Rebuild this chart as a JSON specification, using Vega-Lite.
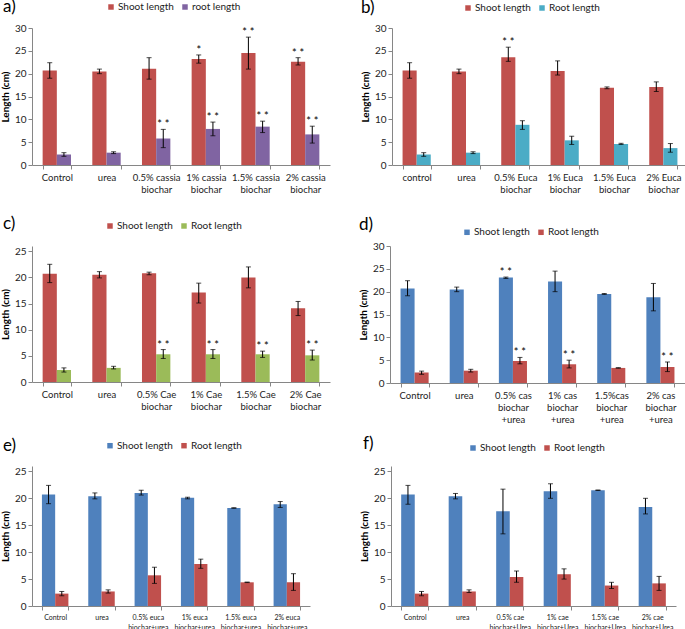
{
  "$schema": "https://vega.github.io/schema/vega-lite/v6.json",
  "padding": {"left": 0, "top": -2, "right": 0, "bottom": 0},
  "config": {
    "view": {"stroke": null},
    "font": "Lato",
    "axis": {"grid": false, "domainColor": "#868686", "tickColor": "#868686", "labelColor": "#222222", "labelFont": "Lato", "titleFont": "Lato"},
    "axisX": {"tickBand": "extent", "labelAngle": 0, "tickSize": 4, "labelPadding": 3, "labelFontSize": 9.5, "labelLineHeight": 12},
    "axisY": {"tickSize": 4, "labelPadding": 2, "labelFontSize": 10, "titleFontSize": 10, "titleFontWeight": "bold", "titleColor": "#000000", "titlePadding": 4},
    "legend": {"orient": "none", "direction": "horizontal", "title": null, "symbolType": "square", "symbolSize": 30, "symbolStrokeWidth": 0, "labelFontSize": 10, "labelFont": "Lato", "labelColor": "#222222", "labelOffset": 2, "columnPadding": 6, "padding": 0},
    "title": {"anchor": "start", "frame": "group", "fontSize": 17, "fontWeight": "normal", "font": "Lato", "color": "#000000"},
    "tick": {"thickness": 1}
  },
  "datasets": {
    "a": [
      {"cat": "Control", "series": "Shoot length", "value": 20.7, "lo": 19.0, "hi": 22.4, "sig": ""},
      {"cat": "Control", "series": "root length", "value": 2.3, "lo": 1.9, "hi": 2.7, "sig": ""},
      {"cat": "urea", "series": "Shoot length", "value": 20.5, "lo": 20.0, "hi": 21.0, "sig": ""},
      {"cat": "urea", "series": "root length", "value": 2.7, "lo": 2.5, "hi": 2.9, "sig": ""},
      {"cat": "0.5% cassia\nbiochar", "series": "Shoot length", "value": 21.1, "lo": 18.8, "hi": 23.5, "sig": ""},
      {"cat": "0.5% cassia\nbiochar", "series": "root length", "value": 5.8, "lo": 3.8, "hi": 7.8, "sig": "* *"},
      {"cat": "1% cassia\nbiochar", "series": "Shoot length", "value": 23.2, "lo": 22.3, "hi": 24.1, "sig": "*"},
      {"cat": "1% cassia\nbiochar", "series": "root length", "value": 7.9, "lo": 6.4, "hi": 9.4, "sig": "* *"},
      {"cat": "1.5% cassia\nbiochar", "series": "Shoot length", "value": 24.5, "lo": 21.0, "hi": 28.0, "sig": "* *"},
      {"cat": "1.5% cassia\nbiochar", "series": "root length", "value": 8.4, "lo": 7.1, "hi": 9.6, "sig": "* *"},
      {"cat": "2% cassia\nbiochar", "series": "Shoot length", "value": 22.6, "lo": 21.9, "hi": 23.5, "sig": "* *"},
      {"cat": "2% cassia\nbiochar", "series": "root length", "value": 6.7, "lo": 4.8, "hi": 8.5, "sig": "* *"}
    ],
    "b": [
      {"cat": "control", "series": "Shoot length", "value": 20.7, "lo": 19.0, "hi": 22.4, "sig": ""},
      {"cat": "control", "series": "Root length", "value": 2.3, "lo": 1.9, "hi": 2.7, "sig": ""},
      {"cat": "urea", "series": "Shoot length", "value": 20.5, "lo": 20.0, "hi": 21.0, "sig": ""},
      {"cat": "urea", "series": "Root length", "value": 2.7, "lo": 2.5, "hi": 2.9, "sig": ""},
      {"cat": "0.5% Euca\nbiochar", "series": "Shoot length", "value": 23.6, "lo": 22.7, "hi": 25.8, "sig": "* *"},
      {"cat": "0.5% Euca\nbiochar", "series": "Root length", "value": 8.8, "lo": 7.8, "hi": 9.7, "sig": ""},
      {"cat": "1% Euca\nbiochar", "series": "Shoot length", "value": 20.6, "lo": 19.7, "hi": 22.8, "sig": ""},
      {"cat": "1% Euca\nbiochar", "series": "Root length", "value": 5.4, "lo": 4.5, "hi": 6.3, "sig": ""},
      {"cat": "1.5% Euca\nbiochar", "series": "Shoot length", "value": 16.9, "lo": 16.7, "hi": 17.1, "sig": ""},
      {"cat": "1.5% Euca\nbiochar", "series": "Root length", "value": 4.6, "lo": 4.5, "hi": 4.75, "sig": ""},
      {"cat": "2% Euca\nbiochar", "series": "Shoot length", "value": 17.1, "lo": 16.1, "hi": 18.2, "sig": ""},
      {"cat": "2% Euca\nbiochar", "series": "Root length", "value": 3.7, "lo": 2.8, "hi": 4.7, "sig": ""}
    ],
    "c": [
      {"cat": "Control", "series": "Shoot length", "value": 20.7, "lo": 19.0, "hi": 22.5, "sig": ""},
      {"cat": "Control", "series": "Root length", "value": 2.3, "lo": 1.9, "hi": 2.7, "sig": ""},
      {"cat": "urea", "series": "Shoot length", "value": 20.5, "lo": 19.9, "hi": 21.1, "sig": ""},
      {"cat": "urea", "series": "Root length", "value": 2.7, "lo": 2.5, "hi": 3.0, "sig": ""},
      {"cat": "0.5% Cae\nbiochar", "series": "Shoot length", "value": 20.8, "lo": 20.5, "hi": 21.0, "sig": ""},
      {"cat": "0.5% Cae\nbiochar", "series": "Root length", "value": 5.3, "lo": 4.5, "hi": 6.2, "sig": "* *"},
      {"cat": "1% Cae\nbiochar", "series": "Shoot length", "value": 17.1, "lo": 15.1, "hi": 18.9, "sig": ""},
      {"cat": "1% Cae\nbiochar", "series": "Root length", "value": 5.3, "lo": 4.5, "hi": 6.2, "sig": "* *"},
      {"cat": "1.5% Cae\nbiochar", "series": "Shoot length", "value": 20.0, "lo": 18.0, "hi": 22.0, "sig": ""},
      {"cat": "1.5% Cae\nbiochar", "series": "Root length", "value": 5.3, "lo": 4.7, "hi": 5.9, "sig": "* *"},
      {"cat": "2% Cae\nbiochar", "series": "Shoot length", "value": 14.1, "lo": 12.7, "hi": 15.4, "sig": ""},
      {"cat": "2% Cae\nbiochar", "series": "Root length", "value": 5.1, "lo": 4.2, "hi": 6.1, "sig": "* *"}
    ],
    "d": [
      {"cat": "Control", "series": "Shoot length", "value": 20.7, "lo": 19.1, "hi": 22.4, "sig": ""},
      {"cat": "Control", "series": "Root length", "value": 2.3, "lo": 1.9, "hi": 2.6, "sig": ""},
      {"cat": "urea", "series": "Shoot length", "value": 20.5, "lo": 20.0, "hi": 21.0, "sig": ""},
      {"cat": "urea", "series": "Root length", "value": 2.7, "lo": 2.4, "hi": 3.0, "sig": ""},
      {"cat": "0.5% cas\nbiochar\n+urea", "series": "Shoot length", "value": 23.1, "lo": 22.9, "hi": 23.2, "sig": "* *"},
      {"cat": "0.5% cas\nbiochar\n+urea", "series": "Root length", "value": 4.8, "lo": 4.2, "hi": 5.6, "sig": "* *"},
      {"cat": "1% cas\nbiochar\n+urea", "series": "Shoot length", "value": 22.2, "lo": 20.0, "hi": 24.5, "sig": ""},
      {"cat": "1% cas\nbiochar\n+urea", "series": "Root length", "value": 4.1, "lo": 3.3, "hi": 5.0, "sig": "* *"},
      {"cat": "1.5%cas\nbiochar\n+urea", "series": "Shoot length", "value": 19.5, "lo": 19.4, "hi": 19.6, "sig": ""},
      {"cat": "1.5%cas\nbiochar\n+urea", "series": "Root length", "value": 3.3, "lo": 3.25, "hi": 3.35, "sig": ""},
      {"cat": "2% cas\nbiochar\n+urea", "series": "Shoot length", "value": 18.8, "lo": 15.8, "hi": 21.8, "sig": ""},
      {"cat": "2% cas\nbiochar\n+urea", "series": "Root length", "value": 3.5, "lo": 2.5, "hi": 4.6, "sig": "* *"}
    ],
    "e": [
      {"cat": "Control", "series": "Shoot length", "value": 20.7, "lo": 19.0, "hi": 22.4, "sig": ""},
      {"cat": "Control", "series": "Root length", "value": 2.3, "lo": 1.9, "hi": 2.7, "sig": ""},
      {"cat": "urea", "series": "Shoot length", "value": 20.4, "lo": 19.9, "hi": 21.0, "sig": ""},
      {"cat": "urea", "series": "Root length", "value": 2.7, "lo": 2.4, "hi": 3.0, "sig": ""},
      {"cat": "0.5% euca\nbiochar+urea", "series": "Shoot length", "value": 21.0, "lo": 20.6, "hi": 21.5, "sig": ""},
      {"cat": "0.5% euca\nbiochar+urea", "series": "Root length", "value": 5.7, "lo": 4.2, "hi": 7.2, "sig": ""},
      {"cat": "1% euca\nbiochar+urea", "series": "Shoot length", "value": 20.1, "lo": 19.9, "hi": 20.2, "sig": ""},
      {"cat": "1% euca\nbiochar+urea", "series": "Root length", "value": 7.8, "lo": 7.0, "hi": 8.7, "sig": ""},
      {"cat": "1.5% euca\nbiochar+urea", "series": "Shoot length", "value": 18.2, "lo": 18.15, "hi": 18.25, "sig": ""},
      {"cat": "1.5% euca\nbiochar+urea", "series": "Root length", "value": 4.4, "lo": 4.35, "hi": 4.45, "sig": ""},
      {"cat": "2% euca\nbiochar+urea", "series": "Shoot length", "value": 18.9, "lo": 18.3, "hi": 19.4, "sig": ""},
      {"cat": "2% euca\nbiochar+urea", "series": "Root length", "value": 4.4, "lo": 2.9, "hi": 6.0, "sig": ""}
    ],
    "f": [
      {"cat": "Control", "series": "Shoot length", "value": 20.7, "lo": 18.9, "hi": 22.4, "sig": ""},
      {"cat": "Control", "series": "Root length", "value": 2.3, "lo": 1.9, "hi": 2.7, "sig": ""},
      {"cat": "urea", "series": "Shoot length", "value": 20.4, "lo": 19.9, "hi": 20.9, "sig": ""},
      {"cat": "urea", "series": "Root length", "value": 2.7, "lo": 2.5, "hi": 3.0, "sig": ""},
      {"cat": "0.5% cae\nbiochar+Urea", "series": "Shoot length", "value": 17.6, "lo": 13.4, "hi": 21.7, "sig": ""},
      {"cat": "0.5% cae\nbiochar+Urea", "series": "Root length", "value": 5.4, "lo": 4.4, "hi": 6.5, "sig": ""},
      {"cat": "1% cae\nbiochar+Urea", "series": "Shoot length", "value": 21.3, "lo": 20.0, "hi": 22.7, "sig": ""},
      {"cat": "1% cae\nbiochar+Urea", "series": "Root length", "value": 5.9, "lo": 5.0, "hi": 6.9, "sig": ""},
      {"cat": "1.5% cae\nbiochar+Urea", "series": "Shoot length", "value": 21.5, "lo": 21.45, "hi": 21.55, "sig": ""},
      {"cat": "1.5% cae\nbiochar+Urea", "series": "Root length", "value": 3.8, "lo": 3.25, "hi": 4.4, "sig": ""},
      {"cat": "2% cae\nbiochar+Urea", "series": "Shoot length", "value": 18.4, "lo": 17.1, "hi": 20.0, "sig": ""},
      {"cat": "2% cae\nbiochar+Urea", "series": "Root length", "value": 4.2, "lo": 2.9, "hi": 5.5, "sig": ""}
    ]
  },
  "spacing": 10,
  "resolve": {"scale": {"color": "independent", "xOffset": "independent", "x": "independent", "y": "independent"}, "legend": {"color": "independent"}, "axis": {"x": "independent", "y": "independent"}},
  "vconcat": [
    {
      "spacing": 21,
      "resolve": {"scale": {"color": "independent", "xOffset": "independent", "x": "independent", "y": "independent"}, "legend": {"color": "independent"}, "axis": {"x": "independent", "y": "independent"}},
      "vconcat": [
        {
          "spacing": 30,
          "resolve": {"scale": {"color": "independent", "xOffset": "independent", "x": "independent", "y": "independent"}, "legend": {"color": "independent"}, "axis": {"x": "independent", "y": "independent"}},
          "hconcat": [
            {
              "data": {"name": "a"},
              "width": 298, "height": 137,
              "title": {"text": "a)", "dx": -29, "offset": -14},
              "encoding": {
                "x": {"field": "cat", "type": "nominal", "sort": null, "title": null, "scale": {"paddingInner": 0.4286, "paddingOuter": 0.2143}, "axis": {"labelExpr": "split(datum.label, '\\n')"}},
                "xOffset": {"field": "series", "type": "nominal", "sort": null}
              },
              "layer": [
                {"mark": {"type": "bar"}, "encoding": {
                  "y": {"field": "value", "type": "quantitative", "title": "Length (cm)", "scale": {"domain": [0, 30]}, "axis": {"values": [0, 5, 10, 15, 20, 25, 30]}},
                  "color": {"field": "series", "type": "nominal", "sort": null, "scale": {"domain": ["Shoot length", "root length"], "range": ["#C0504D", "#8064A2"]}, "legend": {"legendX": 74, "legendY": -26}}}},
                {"mark": {"type": "rule", "color": "#000000", "strokeWidth": 1}, "encoding": {"y": {"field": "lo", "type": "quantitative", "title": "Length (cm)", "axis": {"values": [0, 5, 10, 15, 20, 25, 30]}}, "y2": {"field": "hi"}}},
                {"mark": {"type": "tick", "color": "#000000", "size": 5}, "encoding": {"y": {"field": "lo", "type": "quantitative", "title": "Length (cm)", "axis": {"values": [0, 5, 10, 15, 20, 25, 30]}}}},
                {"mark": {"type": "tick", "color": "#000000", "size": 5}, "encoding": {"y": {"field": "hi", "type": "quantitative", "title": "Length (cm)", "axis": {"values": [0, 5, 10, 15, 20, 25, 30]}}}},
                {"mark": {"type": "text", "baseline": "alphabetic", "dy": -1, "fontSize": 11, "color": "#000000"}, "encoding": {"y": {"field": "hi", "type": "quantitative", "title": "Length (cm)", "axis": {"values": [0, 5, 10, 15, 20, 25, 30]}}, "text": {"field": "sig"}}}
              ]
            },
            {
              "data": {"name": "b"},
              "width": 296, "height": 137,
              "title": {"text": "b)", "dx": -31, "offset": -13.5},
              "encoding": {
                "x": {"field": "cat", "type": "nominal", "sort": null, "title": null, "scale": {"paddingInner": 0.4286, "paddingOuter": 0.2143}, "axis": {"labelExpr": "split(datum.label, '\\n')"}},
                "xOffset": {"field": "series", "type": "nominal", "sort": null}
              },
              "layer": [
                {"mark": {"type": "bar"}, "encoding": {
                  "y": {"field": "value", "type": "quantitative", "title": "Length (cm)", "scale": {"domain": [0, 30]}, "axis": {"values": [0, 5, 10, 15, 20, 25, 30]}},
                  "color": {"field": "series", "type": "nominal", "sort": null, "scale": {"domain": ["Shoot length", "Root length"], "range": ["#C0504D", "#4BACC6"]}, "legend": {"legendX": 71, "legendY": -25}}}},
                {"mark": {"type": "rule", "color": "#000000", "strokeWidth": 1}, "encoding": {"y": {"field": "lo", "type": "quantitative", "title": "Length (cm)", "axis": {"values": [0, 5, 10, 15, 20, 25, 30]}}, "y2": {"field": "hi"}}},
                {"mark": {"type": "tick", "color": "#000000", "size": 5}, "encoding": {"y": {"field": "lo", "type": "quantitative", "title": "Length (cm)", "axis": {"values": [0, 5, 10, 15, 20, 25, 30]}}}},
                {"mark": {"type": "tick", "color": "#000000", "size": 5}, "encoding": {"y": {"field": "hi", "type": "quantitative", "title": "Length (cm)", "axis": {"values": [0, 5, 10, 15, 20, 25, 30]}}}},
                {"mark": {"type": "text", "baseline": "alphabetic", "dy": -1, "fontSize": 11, "color": "#000000"}, "encoding": {"y": {"field": "hi", "type": "quantitative", "title": "Length (cm)", "axis": {"values": [0, 5, 10, 15, 20, 25, 30]}}, "text": {"field": "sig"}}}
              ]
            }
          ]
        },
        {
          "spacing": 28,
          "resolve": {"scale": {"color": "independent", "xOffset": "independent", "x": "independent", "y": "independent"}, "legend": {"color": "independent"}, "axis": {"x": "independent", "y": "independent"}},
          "hconcat": [
            {
              "data": {"name": "c"},
              "width": 298, "height": 136,
              "title": {"text": "c)", "dx": -29, "offset": -12},
              "encoding": {
                "x": {"field": "cat", "type": "nominal", "sort": null, "title": null, "scale": {"paddingInner": 0.4286, "paddingOuter": 0.2143}, "axis": {"labelExpr": "split(datum.label, '\\n')"}},
                "xOffset": {"field": "series", "type": "nominal", "sort": null}
              },
              "layer": [
                {"mark": {"type": "bar"}, "encoding": {
                  "y": {"field": "value", "type": "quantitative", "title": "Length (cm)", "scale": {"domain": [0, 25]}, "axis": {"values": [0, 5, 10, 15, 20, 25]}},
                  "color": {"field": "series", "type": "nominal", "sort": null, "scale": {"domain": ["Shoot length", "Root length"], "range": ["#C0504D", "#9BBB59"]}, "legend": {"legendX": 73, "legendY": -25}}}},
                {"mark": {"type": "rule", "color": "#000000", "strokeWidth": 1}, "encoding": {"y": {"field": "lo", "type": "quantitative", "title": "Length (cm)", "axis": {"values": [0, 5, 10, 15, 20, 25]}}, "y2": {"field": "hi"}}},
                {"mark": {"type": "tick", "color": "#000000", "size": 5}, "encoding": {"y": {"field": "lo", "type": "quantitative", "title": "Length (cm)", "axis": {"values": [0, 5, 10, 15, 20, 25]}}}},
                {"mark": {"type": "tick", "color": "#000000", "size": 5}, "encoding": {"y": {"field": "hi", "type": "quantitative", "title": "Length (cm)", "axis": {"values": [0, 5, 10, 15, 20, 25]}}}},
                {"mark": {"type": "text", "baseline": "alphabetic", "dy": -1, "fontSize": 11, "color": "#000000"}, "encoding": {"y": {"field": "hi", "type": "quantitative", "title": "Length (cm)", "axis": {"values": [0, 5, 10, 15, 20, 25]}}, "text": {"field": "sig"}}}
              ]
            },
            {
              "data": {"name": "d"},
              "width": 295, "height": 137,
              "title": {"text": "d)", "dx": -31, "offset": -6.7},
              "encoding": {
                "x": {"field": "cat", "type": "nominal", "sort": null, "title": null, "scale": {"paddingInner": 0.4286, "paddingOuter": 0.2143}, "axis": {"labelExpr": "split(datum.label, '\\n')"}},
                "xOffset": {"field": "series", "type": "nominal", "sort": null}
              },
              "layer": [
                {"mark": {"type": "bar"}, "encoding": {
                  "y": {"field": "value", "type": "quantitative", "title": "Length (cm)", "scale": {"domain": [0, 30]}, "axis": {"values": [0, 5, 10, 15, 20, 25, 30]}},
                  "color": {"field": "series", "type": "nominal", "sort": null, "scale": {"domain": ["Shoot length", "Root length"], "range": ["#4F81BD", "#C0504D"]}, "legend": {"legendX": 72, "legendY": -18.7}}}},
                {"mark": {"type": "rule", "color": "#000000", "strokeWidth": 1}, "encoding": {"y": {"field": "lo", "type": "quantitative", "title": "Length (cm)", "axis": {"values": [0, 5, 10, 15, 20, 25, 30]}}, "y2": {"field": "hi"}}},
                {"mark": {"type": "tick", "color": "#000000", "size": 5}, "encoding": {"y": {"field": "lo", "type": "quantitative", "title": "Length (cm)", "axis": {"values": [0, 5, 10, 15, 20, 25, 30]}}}},
                {"mark": {"type": "tick", "color": "#000000", "size": 5}, "encoding": {"y": {"field": "hi", "type": "quantitative", "title": "Length (cm)", "axis": {"values": [0, 5, 10, 15, 20, 25, 30]}}}},
                {"mark": {"type": "text", "baseline": "alphabetic", "dy": -1, "fontSize": 11, "color": "#000000"}, "encoding": {"y": {"field": "hi", "type": "quantitative", "title": "Length (cm)", "axis": {"values": [0, 5, 10, 15, 20, 25, 30]}}, "text": {"field": "sig"}}}
              ]
            }
          ]
        }
      ]
    },
    {
      "spacing": 49,
      "resolve": {"scale": {"color": "independent", "xOffset": "independent", "x": "independent", "y": "independent"}, "legend": {"color": "independent"}, "axis": {"x": "independent", "y": "independent"}},
      "hconcat": [
        {
          "data": {"name": "e"},
          "width": 278, "height": 140,
          "title": {"text": "e)", "dx": -29, "offset": -14.5},
          "encoding": {
            "x": {"field": "cat", "type": "nominal", "sort": null, "title": null, "scale": {"paddingInner": 0.4286, "paddingOuter": 0.2143}, "axis": {"labelExpr": "split(datum.label, '\\n')", "labelFontSize": 7, "labelLineHeight": 10}},
            "xOffset": {"field": "series", "type": "nominal", "sort": null}
          },
          "layer": [
            {"mark": {"type": "bar"}, "encoding": {
              "y": {"field": "value", "type": "quantitative", "title": "Length (cm)", "scale": {"domain": [0, 25]}, "axis": {"values": [0, 5, 10, 15, 20, 25]}},
              "color": {"field": "series", "type": "nominal", "sort": null, "scale": {"domain": ["Shoot length", "Root length"], "range": ["#4F81BD", "#C0504D"]}, "legend": {"legendX": 73, "legendY": -25.3}}}},
            {"mark": {"type": "rule", "color": "#000000", "strokeWidth": 1}, "encoding": {"y": {"field": "lo", "type": "quantitative", "title": "Length (cm)", "axis": {"values": [0, 5, 10, 15, 20, 25]}}, "y2": {"field": "hi"}}},
            {"mark": {"type": "tick", "color": "#000000", "size": 5}, "encoding": {"y": {"field": "lo", "type": "quantitative", "title": "Length (cm)", "axis": {"values": [0, 5, 10, 15, 20, 25]}}}},
            {"mark": {"type": "tick", "color": "#000000", "size": 5}, "encoding": {"y": {"field": "hi", "type": "quantitative", "title": "Length (cm)", "axis": {"values": [0, 5, 10, 15, 20, 25]}}}}
          ]
        },
        {
          "data": {"name": "f"},
          "width": 285, "height": 140,
          "title": {"text": "f)", "dx": -28, "offset": -9.5},
          "encoding": {
            "x": {"field": "cat", "type": "nominal", "sort": null, "title": null, "scale": {"paddingInner": 0.4286, "paddingOuter": 0.2143}, "axis": {"labelExpr": "split(datum.label, '\\n')", "labelFontSize": 7, "labelLineHeight": 10}},
            "xOffset": {"field": "series", "type": "nominal", "sort": null}
          },
          "layer": [
            {"mark": {"type": "bar"}, "encoding": {
              "y": {"field": "value", "type": "quantitative", "title": "Length (cm)", "scale": {"domain": [0, 25]}, "axis": {"values": [0, 5, 10, 15, 20, 25]}},
              "color": {"field": "series", "type": "nominal", "sort": null, "scale": {"domain": ["Shoot length", "Root length"], "range": ["#4F81BD", "#C0504D"]}, "legend": {"legendX": 77, "legendY": -23}}}},
            {"mark": {"type": "rule", "color": "#000000", "strokeWidth": 1}, "encoding": {"y": {"field": "lo", "type": "quantitative", "title": "Length (cm)", "axis": {"values": [0, 5, 10, 15, 20, 25]}}, "y2": {"field": "hi"}}},
            {"mark": {"type": "tick", "color": "#000000", "size": 5}, "encoding": {"y": {"field": "lo", "type": "quantitative", "title": "Length (cm)", "axis": {"values": [0, 5, 10, 15, 20, 25]}}}},
            {"mark": {"type": "tick", "color": "#000000", "size": 5}, "encoding": {"y": {"field": "hi", "type": "quantitative", "title": "Length (cm)", "axis": {"values": [0, 5, 10, 15, 20, 25]}}}}
          ]
        }
      ]
    }
  ]
}
